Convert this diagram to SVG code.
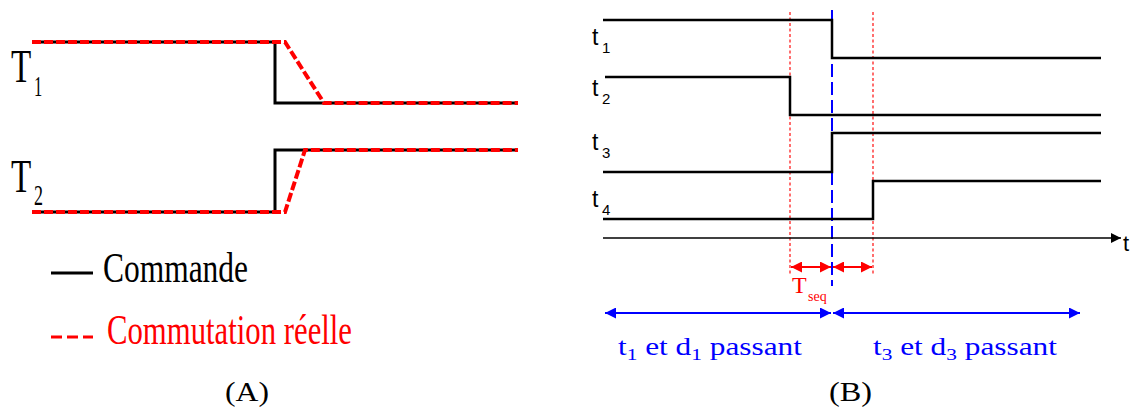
<svg xmlns="http://www.w3.org/2000/svg" width="1140" height="408" viewBox="0 0 1140 408">
<style>
.cmd{fill:none;stroke:#000;stroke-width:3;stroke-linejoin:miter}
.real{fill:none;stroke:#ff0000;stroke-width:4;stroke-dasharray:9 3}
.sig{fill:none;stroke:#000;stroke-width:2.5}
.rdot{stroke:#ff2020;stroke-width:1.3;stroke-dasharray:3 2.5}
.bdash{stroke:#0000ff;stroke-width:2;stroke-dasharray:13 5}
.ser{font-family:"Liberation Serif","DejaVu Serif",serif}
.sans{font-family:"Liberation Sans","DejaVu Sans",sans-serif}
</style>
<defs>
<marker id="ah" viewBox="0 0 10 10" refX="10" refY="5" markerWidth="10" markerHeight="10" markerUnits="userSpaceOnUse" orient="auto-start-reverse"><path d="M0,0L10,5L0,10z" fill="#000"/></marker>
<marker id="ahr" viewBox="0 0 10 10" refX="10" refY="5" markerWidth="11" markerHeight="11" markerUnits="userSpaceOnUse" orient="auto-start-reverse"><path d="M0,0L10,5L0,10z" fill="#ff0000"/></marker>
<marker id="ahb" viewBox="0 0 10 10" refX="10" refY="5" markerWidth="11" markerHeight="11" markerUnits="userSpaceOnUse" orient="auto-start-reverse"><path d="M0,0L10,5L0,10z" fill="#0000ff"/></marker>
</defs>

<!-- Panel A -->
<g id="T1">
<path class="cmd" d="M32,42H275V103H518"/>
<path class="real" d="M32,42H285L324,103H518"/>
<text class="ser" transform="translate(11,82) scale(0.72,1)" font-size="46">T</text>
<text class="ser" transform="translate(34,96) scale(0.55,1)" font-size="30">1</text>
</g>
<g id="T2">
<path class="cmd" d="M32,212H275V150H518"/>
<path class="real" d="M32,212H285L305,150H518"/>
<text class="ser" transform="translate(11,192) scale(0.72,1)" font-size="46">T</text>
<text class="ser" transform="translate(34,205) scale(0.6,1)" font-size="30">2</text>
</g>
<g id="legend">
<line x1="51" y1="273" x2="93" y2="273" stroke="#000" stroke-width="3"/>
<text class="ser" x="103" y="282" font-size="42" textLength="145" lengthAdjust="spacingAndGlyphs">Commande</text>
<line x1="51" y1="337" x2="93" y2="337" stroke="#ff0000" stroke-width="3" stroke-dasharray="11 5"/>
<text class="ser" x="107" y="344" font-size="42" fill="#ff0000" textLength="245" lengthAdjust="spacingAndGlyphs">Commutation réelle</text>
</g>
<text id="labelA" class="ser" x="225" y="401" font-size="28" textLength="44" lengthAdjust="spacingAndGlyphs">(A)</text>

<!-- Panel B -->
<g id="guides">
<line class="rdot" x1="790" y1="12" x2="790" y2="276"/>
<line class="rdot" x1="873" y1="12" x2="873" y2="276"/>
<line class="bdash" x1="832" y1="10" x2="832" y2="286"/>
</g>
<g id="t1">
<path class="sig" d="M603,20H832V58H1101"/>
<text class="sans" x="592" y="45" font-size="23">t</text>
<text class="sans" x="602" y="53" font-size="15">1</text>
</g>
<g id="t2">
<path class="sig" d="M605,77H790V115H1101"/>
<text class="sans" x="592" y="96" font-size="23">t</text>
<text class="sans" x="602" y="104" font-size="15">2</text>
</g>
<g id="t3">
<path class="sig" d="M603,172H832V133H1101"/>
<text class="sans" x="592" y="150" font-size="23">t</text>
<text class="sans" x="602" y="158" font-size="15">3</text>
</g>
<g id="t4">
<path class="sig" d="M603,219H873V181H1101"/>
<text class="sans" x="592" y="207" font-size="23">t</text>
<text class="sans" x="602" y="215" font-size="15">4</text>
</g>
<g id="axis">
<line x1="603" y1="238" x2="1121" y2="238" stroke="#000" stroke-width="1.6" marker-end="url(#ah)"/>
<text class="sans" x="1123" y="251" font-size="22">t</text>
</g>
<g id="connectors">
<line x1="791" y1="267" x2="831" y2="267" stroke="#ff0000" stroke-width="2" marker-start="url(#ahr)" marker-end="url(#ahr)"/>
<line x1="833" y1="267" x2="872" y2="267" stroke="#ff0000" stroke-width="2" marker-start="url(#ahr)" marker-end="url(#ahr)"/>
<line x1="605" y1="313" x2="831" y2="313" stroke="#0000ff" stroke-width="2" marker-start="url(#ahb)" marker-end="url(#ahb)"/>
<line x1="833" y1="313" x2="1080" y2="313" stroke="#0000ff" stroke-width="2" marker-start="url(#ahb)" marker-end="url(#ahb)"/>
</g>
<g id="Tseq">
<text class="ser" x="792" y="293" font-size="24" fill="#ff0000">T</text>
<text class="ser" x="808" y="301" font-size="14" fill="#ff0000">seq</text>
</g>
<g id="phase1">
<text class="ser" font-size="25" fill="#0000ff" x="618" y="355" textLength="184" lengthAdjust="spacingAndGlyphs">t<tspan font-size="17" dy="5">1</tspan><tspan dy="-5"> et d</tspan><tspan font-size="17" dy="5">1</tspan><tspan dy="-5"> passant</tspan></text>
</g>
<g id="phase2">
<text class="ser" font-size="25" fill="#0000ff" x="873" y="355" textLength="184" lengthAdjust="spacingAndGlyphs">t<tspan font-size="17" dy="5">3</tspan><tspan dy="-5"> et d</tspan><tspan font-size="17" dy="5">3</tspan><tspan dy="-5"> passant</tspan></text>
</g>
<text id="labelB" class="ser" x="829" y="401" font-size="28" textLength="43" lengthAdjust="spacingAndGlyphs">(B)</text>
</svg>
